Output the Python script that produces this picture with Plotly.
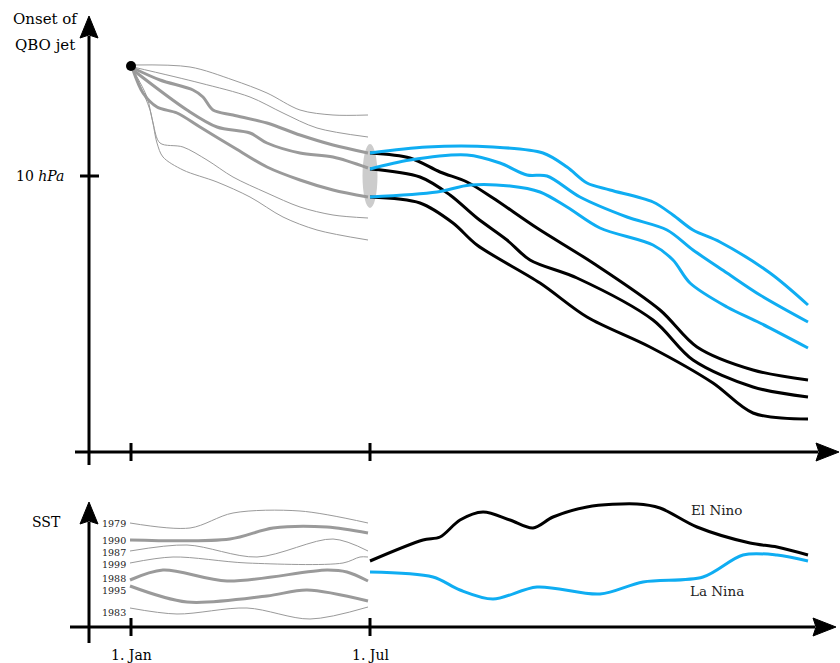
import plotly.graph_objects as go

W, H = 840, 663
FONT = "DejaVu Serif"
GRAY = "#9a9a9a"
BLUE = "#0fadf2"

# ---------- QBO panel: spread of onset curves (before 1. Jul) ----------
qbo_thin1_x = [133, 190, 233, 267, 300, 333, 368]
qbo_thin1_y = [65, 67, 80, 93, 110, 115, 115]
qbo_thin2_x = [133, 200, 250, 283, 317, 368]
qbo_thin2_y = [67, 83, 97, 113, 128, 137]
qbo_thin3_x = [133, 147, 153, 160, 183, 207, 233, 267, 300, 333, 368]
qbo_thin3_y = [70, 97, 123, 143, 147, 160, 177, 193, 207, 215, 218]
qbo_thin4_x = [133, 150, 157, 163, 183, 217, 250, 283, 317, 368]
qbo_thin4_y = [70, 110, 143, 157, 170, 182, 197, 217, 230, 240]

qbo_thickA_x = [133, 160, 193, 203, 213, 233, 267, 300, 333, 368]
qbo_thickA_y = [68, 80, 90, 97, 110, 115, 123, 135, 145, 153]
qbo_thickB_x = [133, 187, 217, 250, 267, 300, 333, 368]
qbo_thickB_y = [70, 110, 127, 133, 143, 153, 157, 168]
qbo_thickC_x = [133, 143, 157, 177, 200, 233, 267, 300, 333, 368]
qbo_thickC_y = [70, 93, 107, 113, 127, 147, 167, 180, 190, 197]

# ---------- QBO panel: La Nina (blue) and El Nino (black) continuations ----------
qbo_blue1_x = [370, 427, 493, 543, 567, 587, 610, 653, 673, 693, 720, 770, 808]
qbo_blue1_y = [153, 147, 147, 153, 167, 183, 190, 202, 215, 230, 242, 273, 305]
qbo_blue2_x = [370, 410, 467, 500, 527, 547, 580, 627, 667, 693, 727, 760, 808]
qbo_blue2_y = [169, 160, 155, 163, 175, 176, 197, 217, 230, 250, 273, 295, 322]
qbo_blue3_x = [370, 437, 470, 510, 540, 567, 600, 653, 673, 690, 727, 760, 808]
qbo_blue3_y = [197, 192, 185, 186, 192, 207, 228, 245, 260, 283, 307, 323, 348]

qbo_black1_x = [370, 410, 440, 467, 493, 537, 593, 660, 697, 753, 808]
qbo_black1_y = [153, 158, 172, 182, 198, 228, 263, 310, 347, 370, 380]
qbo_black2_x = [370, 420, 450, 477, 507, 530, 577, 653, 693, 753, 808]
qbo_black2_y = [169, 177, 195, 218, 240, 260, 278, 320, 360, 387, 397]
qbo_black3_x = [370, 420, 453, 477, 540, 587, 650, 713, 753, 808]
qbo_black3_y = [197, 203, 223, 245, 283, 317, 347, 383, 413, 419]

# ---------- SST panel: individual years ----------
sst_years = ["1979", "1990", "1987", "1999", "1988", "1995", "1983"]
sst_label_y = [523, 540, 552, 564, 578, 590, 612]
sst_thick = [False, True, False, False, True, True, False]
sst_x = [
    [130, 190, 233, 300, 368],
    [130, 230, 273, 327, 368],
    [130, 187, 257, 333, 368],
    [130, 173, 247, 343, 360, 368],
    [130, 163, 227, 327, 347, 368],
    [130, 187, 267, 307, 368],
    [130, 177, 247, 310, 368],
]
sst_y = [
    [523, 528, 513, 511, 523],
    [540, 539, 528, 527, 533],
    [551, 545, 557, 539, 551],
    [563, 557, 563, 563, 557, 557],
    [580, 570, 581, 570, 572, 581],
    [586, 602, 596, 590, 601],
    [608, 614, 608, 619, 607],
]

elnino_x = [370, 423, 440, 460, 483, 510, 533, 553, 587, 637, 660, 697, 750, 777, 808]
elnino_y = [561, 540, 537, 520, 512, 520, 528, 517, 507, 504, 508, 527, 543, 547, 555]
lanina_x = [370, 433, 460, 493, 537, 600, 643, 703, 743, 777, 808]
lanina_y = [572, 577, 590, 599, 587, 594, 582, 577, 555, 555, 561]

# ---------- axes geometry (figure units) ----------
t_jan, t_jul = 131, 370
y_axis_x = 89
top_base, bot_base = 452, 627
level_10hpa = 176
onset_x, onset_y = 131, 66

fig = go.Figure()


def add_line(x, y, color, width):
    fig.add_trace(go.Scatter(x=x, y=y, mode="lines",
                             line=dict(color=color, width=width, shape="spline", smoothing=0.9),
                             hoverinfo="skip", showlegend=False))


for xs, ys in [(qbo_thin1_x, qbo_thin1_y), (qbo_thin2_x, qbo_thin2_y),
               (qbo_thin3_x, qbo_thin3_y), (qbo_thin4_x, qbo_thin4_y)]:
    add_line(xs, ys, GRAY, 1)
for xs, ys in [(qbo_thickA_x, qbo_thickA_y), (qbo_thickB_x, qbo_thickB_y),
               (qbo_thickC_x, qbo_thickC_y)]:
    add_line(xs, ys, GRAY, 3)
for xs, ys in [(qbo_black1_x, qbo_black1_y), (qbo_black2_x, qbo_black2_y),
               (qbo_black3_x, qbo_black3_y)]:
    add_line(xs, ys, "black", 3)
for xs, ys in [(qbo_blue1_x, qbo_blue1_y), (qbo_blue2_x, qbo_blue2_y),
               (qbo_blue3_x, qbo_blue3_y)]:
    add_line(xs, ys, BLUE, 3)

for xs, ys, thick in zip(sst_x, sst_y, sst_thick):
    add_line(xs, ys, GRAY, 3 if thick else 1)
add_line(elnino_x, elnino_y, "black", 3)
add_line(lanina_x, lanina_y, BLUE, 3)

# onset dot
fig.add_trace(go.Scatter(x=[onset_x], y=[onset_y], mode="markers",
                         marker=dict(color="black", size=10), hoverinfo="skip", showlegend=False))

shapes = []
# ellipse at 1. Jul
shapes.append(dict(type="circle", xref="x", yref="y", x0=t_jul - 7.5, x1=t_jul + 7.5,
                   y0=level_10hpa - 32, y1=level_10hpa + 32,
                   fillcolor="#cccccc", line=dict(width=0), layer="below"))
ax = dict(color="black", width=3)
# top panel axes
shapes.append(dict(type="line", xref="x", yref="y", x0=y_axis_x, x1=y_axis_x, y0=465, y1=36, line=ax))
shapes.append(dict(type="line", xref="x", yref="y", x0=75, x1=818, y0=top_base, y1=top_base, line=ax))
shapes.append(dict(type="line", xref="x", yref="y", x0=80, x1=99, y0=level_10hpa, y1=level_10hpa, line=ax))
for t in (t_jan, t_jul):
    shapes.append(dict(type="line", xref="x", yref="y", x0=t, x1=t, y0=top_base - 9, y1=top_base + 9, line=ax))
    shapes.append(dict(type="line", xref="x", yref="y", x0=t, x1=t, y0=bot_base - 9, y1=bot_base + 9, line=ax))
# bottom panel axes
shapes.append(dict(type="line", xref="x", yref="y", x0=y_axis_x, x1=y_axis_x, y0=643, y1=522, line=ax))
shapes.append(dict(type="line", xref="x", yref="y", x0=70, x1=815, y0=bot_base, y1=bot_base, line=ax))


def arrow_up(xc, tip):
    return f"M {xc},{tip} L {xc+9},{tip+22} L {xc},{tip+19} L {xc-9},{tip+22} Z"


def arrow_right(tip, yc):
    return f"M {tip},{yc} L {tip-23},{yc-9} L {tip-20},{yc} L {tip-23},{yc+9} Z"


for p in (arrow_up(y_axis_x, 16), arrow_up(y_axis_x, 502),
          arrow_right(839, top_base), arrow_right(836, bot_base)):
    shapes.append(dict(type="path", xref="x", yref="y", path=p,
                       fillcolor="black", line=dict(color="black", width=1)))

ann = []


def text(x, y, s, size, xanchor="center", color="black"):
    ann.append(dict(x=x, y=y, xref="x", yref="y", text=s, showarrow=False,
                    xanchor=xanchor, yanchor="middle",
                    font=dict(family=FONT, size=size, color=color)))


text(45, 19, "Onset of", 15)
text(45, 45, "QBO jet", 15)
text(66, level_10hpa, "10 <i>hPa</i>", 14, xanchor="right")
text(46, 522, "SST", 14)
for yr, yy in zip(sst_years, sst_label_y):
    text(128, yy, yr, 9.5, xanchor="right", color="#222222")
text(t_jan, 655, "1. Jan", 14)
text(t_jul, 655, "1. Jul", 14)
text(841, 654, "Time", 14, xanchor="right")
text(716, 510, "El Nino", 13.5, color="#222222")
text(717, 591, "La Nina", 13.5, color="#222222")

fig.update_layout(
    width=W, height=H, margin=dict(l=0, r=0, t=0, b=0),
    paper_bgcolor="white", plot_bgcolor="white",
    xaxis=dict(range=[0, W], visible=False, fixedrange=True),
    yaxis=dict(range=[H, 0], visible=False, fixedrange=True),
    shapes=shapes, annotations=ann, showlegend=False,
)
fig.write_html("out.html", config={"displayModeBar": False},
               post_script="document.body.style.margin='0';document.body.style.overflow='hidden';")
